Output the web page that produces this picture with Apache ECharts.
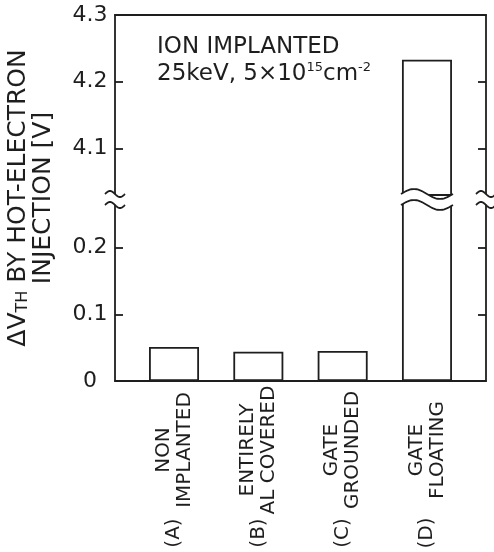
<!DOCTYPE html>
<html>
<head>
<meta charset="utf-8">
<script src="https://cdn.jsdelivr.net/npm/echarts@6/dist/echarts.min.js"></script>
<style>
  html, body { margin: 0; padding: 0; background: #fff; }
  #chart { width: 494px; height: 552px; }
</style>
</head>
<body>
<div id="chart"></div>
<script>
// data
const categories = ['NON\nIMPLANTED', 'ENTIRELY\nAL COVERED', 'GATE\nGROUNDED', 'GATE\nFLOATING'];
const letters = ['(A)', '(B)', '(C)', '(D)'];
const values = [0.051, 0.044, 0.045, 4.233];
const upperLabels = [4.1, 4.2, 4.3];
const upperTicks = [4.1, 4.2];
const lowerLabels = [0, 0.1, 0.2];
const lowerTicks = [0.1, 0.2];

const ink = '#1e1e1e';
const font = 'DejaVu Sans';
const xMin = -0.7, xMax = 3.7;       // category i sits at x = i
const upperMin = 4.03, upperMax = 4.3;
const lowerMin = 0, lowerMax = 0.27;
const barWidth = 50;

const brokenIndex = values.findIndex(v => v > upperMin);
const positions = values.map((v, i) => i);

// wavy break marks: on both axes and on the broken bar
function breakRenderer(side) {
  return function (params, api) {
    const x = api.value(0);
    const p = api.coord([x, api.value(1)]);
    const isBar = api.value(2) === 1;
    const half = isBar ? barWidth / 2 + 1 : 10;
    const amp = isBar ? 5 : 3;
    const yc = side === 'up' ? p[1] - 1 : p[1] + 4;
    const pts = [];
    for (let i = 0; i <= 30; i++) {
      const t = i / 30;
      pts.push([p[0] - half + 2 * half * t, yc - amp * Math.sin(2 * Math.PI * t)]);
    }
    const far = side === 'up' ? yc + amp + 3 : yc - amp - 3;
    return {
      type: 'group',
      children: [
        {type: 'polygon', z2: 0, shape: {points: pts.concat([[p[0] + half, far], [p[0] - half, far]])},
          style: {fill: '#fff', stroke: null}},
        {type: 'polyline', z2: 10, shape: {points: pts},
          style: {stroke: ink, lineWidth: 1.8, fill: null}}
      ]
    };
  };
}

const chart = echarts.init(document.getElementById('chart'));

const hiddenX = {
  type: 'value', min: xMin, max: xMax,
  axisLine: {show: false}, axisTick: {show: false}, axisLabel: {show: false}, splitLine: {show: false}
};
function leftY(gridIndex, min, max, labels, ticks) {
  return {
    type: 'value', gridIndex, position: 'left', min, max,
    axisLine: {show: true, onZero: false, lineStyle: {color: ink, width: 1.8}},
    axisTick: {show: true, inside: true, length: 8, customValues: ticks, lineStyle: {color: ink, width: 1.8}},
    axisLabel: {customValues: labels, color: ink, fontSize: 22, fontFamily: font, align: 'center', margin: 25},
    splitLine: {show: false}
  };
}
function rightY(gridIndex, min, max, ticks) {
  return {
    type: 'value', gridIndex, position: 'right', min, max,
    axisLine: {show: true, onZero: false, lineStyle: {color: ink, width: 1.8}},
    axisTick: {show: true, inside: true, length: 8, customValues: ticks, lineStyle: {color: ink, width: 1.8}},
    axisLabel: {show: false},
    splitLine: {show: false}
  };
}

chart.setOption({
  animation: false,
  textStyle: {fontFamily: font},
  title: {
    left: 152, top: 29,
    text: '{a|ION IMPLANTED}\n{a|25keV, 5×10}{s|15}{a|cm}{s|-2}',
    textStyle: {
      fontWeight: 'normal',
      rich: {
        a: {fontSize: 23, lineHeight: 27, color: ink, fontFamily: font, fontWeight: 'normal'},
        s: {fontSize: 13, lineHeight: 13, verticalAlign: 'top', color: ink, fontFamily: font, fontWeight: 'normal'}
      }
    }
  },
  grid: [
    {left: 115, right: 8, top: 15, height: 180, outerBoundsMode: 'none'},
    {left: 115, right: 8, top: 201, height: 180, outerBoundsMode: 'none'},
    {left: 115, right: 8, top: 15, bottom: 171, outerBoundsMode: 'none'}
  ],
  xAxis: [
    {
      type: 'value', gridIndex: 0, position: 'top', min: xMin, max: xMax,
      axisLine: {show: true, onZero: false, lineStyle: {color: ink, width: 1.8}},
      axisTick: {show: false}, axisLabel: {show: false}, splitLine: {show: false}
    },
    {
      type: 'value', gridIndex: 1, position: 'bottom', min: xMin, max: xMax,
      axisLine: {show: true, onZero: false, lineStyle: {color: ink, width: 1.8}},
      axisTick: {show: false}, splitLine: {show: false},
      axisLabel: {
        customValues: positions, formatter: v => categories[Math.round(v)],
        rotate: 90, align: 'center', verticalAlign: 'middle', margin: 69,
        fontSize: 20, lineHeight: 21, color: ink, fontFamily: font
      }
    },
    Object.assign({}, hiddenX, {
      gridIndex: 2, position: 'bottom',
      axisLabel: {
        show: true, customValues: positions, formatter: v => letters[Math.round(v)],
        rotate: 90, align: 'center', verticalAlign: 'middle', margin: 152,
        fontSize: 20, color: ink, fontFamily: font
      }
    })
  ],
  yAxis: [
    leftY(0, upperMin, upperMax, upperLabels, upperTicks),
    rightY(0, upperMin, upperMax, upperTicks),
    leftY(1, lowerMin, lowerMax, lowerLabels, lowerTicks),
    rightY(1, lowerMin, lowerMax, lowerTicks),
    {
      type: 'value', gridIndex: 2, position: 'left', min: 0, max: 1,
      axisLine: {show: false}, axisTick: {show: false}, axisLabel: {show: false}, splitLine: {show: false},
      name: '{n|ΔV}{s|TH}{n| BY HOT-ELECTRON}\n{n|INJECTION [V]}',
      nameLocation: 'middle', nameRotate: 90, nameGap: 84, nameMoveOverlap: false,
      nameTextStyle: {
        align: 'center', verticalAlign: 'middle',
        rich: {
          n: {fontSize: 25, lineHeight: 25, color: ink, fontFamily: font},
          s: {fontSize: 16, lineHeight: 20, verticalAlign: 'bottom', color: ink, fontFamily: font}
        }
      }
    }
  ],
  series: [
    {
      type: 'bar', xAxisIndex: 0, yAxisIndex: 0, barWidth,
      data: values.map((v, i) => [i, v > upperMin ? v : '-']),
      itemStyle: {color: '#fff', borderColor: ink, borderWidth: 1.8}
    },
    {
      type: 'bar', xAxisIndex: 1, yAxisIndex: 2, barWidth,
      data: values.map((v, i) => [i, v]),
      itemStyle: {color: '#fff', borderColor: ink, borderWidth: 1.8}
    },
    {
      type: 'custom', xAxisIndex: 0, yAxisIndex: 0, z: 10, clip: false,
      renderItem: breakRenderer('up'),
      data: [[xMin, upperMin, 0], [brokenIndex, upperMin, 1], [xMax, upperMin, 0]]
    },
    {
      type: 'custom', xAxisIndex: 1, yAxisIndex: 2, z: 10, clip: false,
      renderItem: breakRenderer('down'),
      data: [[xMin, lowerMax, 0], [brokenIndex, lowerMax, 1], [xMax, lowerMax, 0]]
    }
  ]
});
</script>
</body>
</html>
